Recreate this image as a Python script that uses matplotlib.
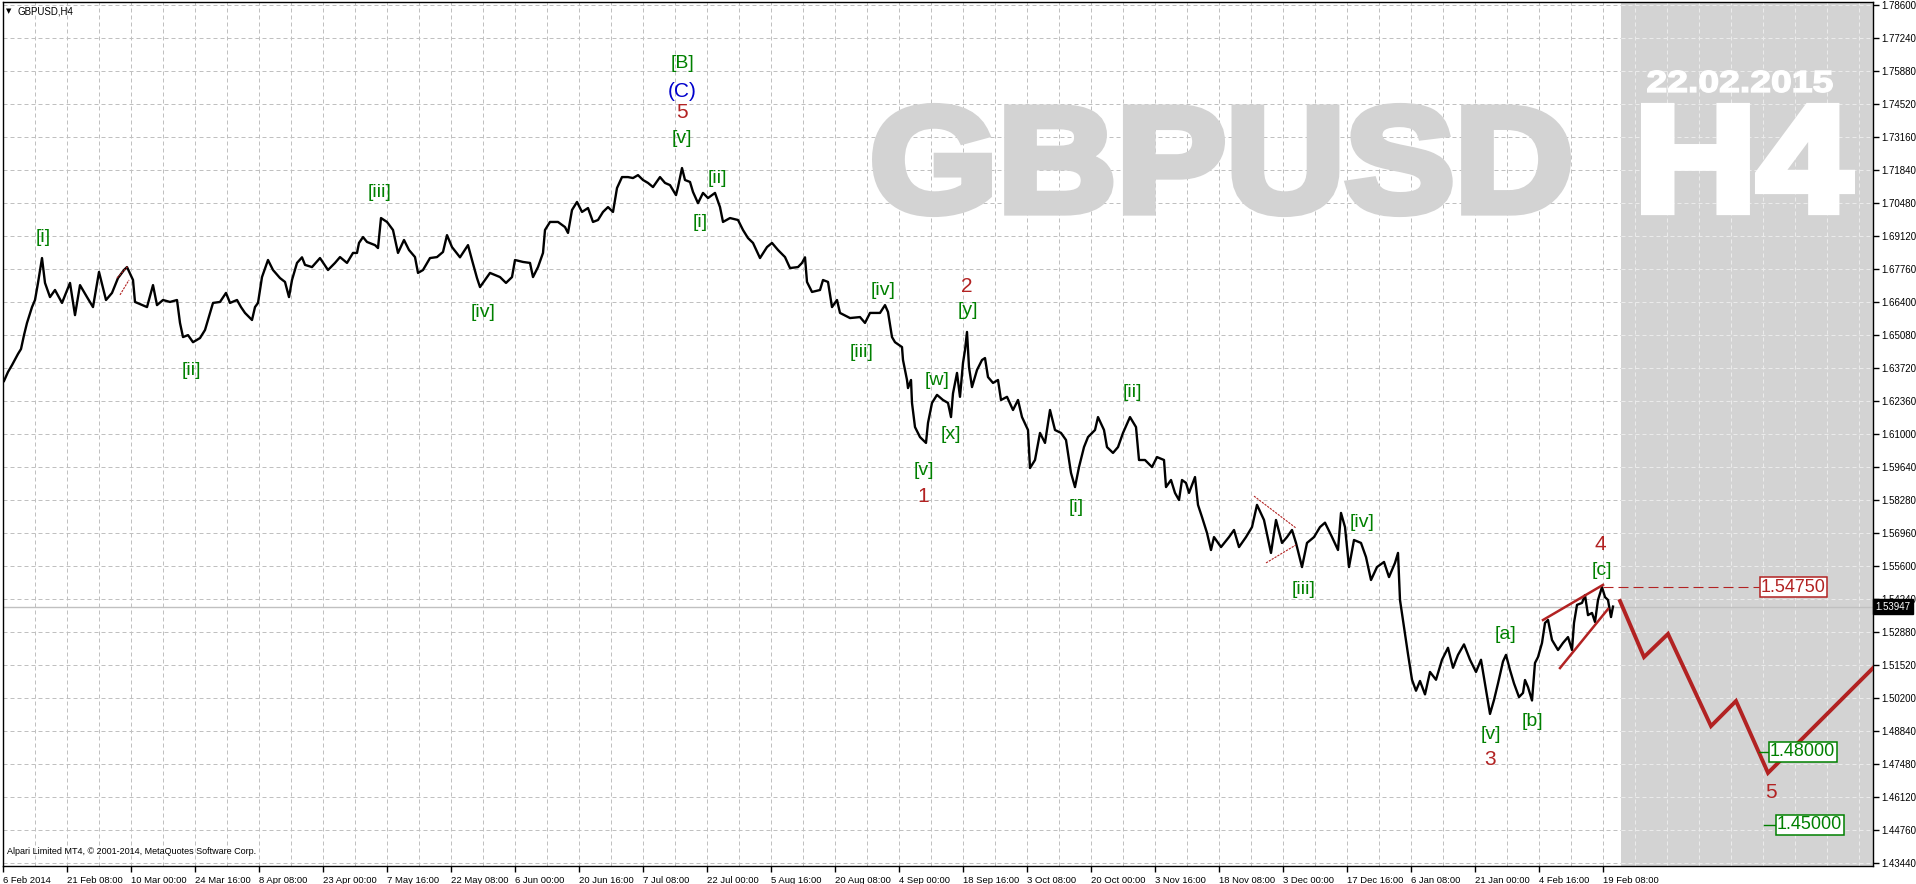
"""
GBPUSD H4 Elliott wave count, MT4 style
"""

import numpy as np
import matplotlib.pyplot as plt
import matplotlib.transforms as mtransforms
from matplotlib.textpath import TextPath
from matplotlib.patches import PathPatch
from matplotlib.font_manager import FontProperties

plt.rcParams['font.family'] = ['Liberation Sans', 'DejaVu Sans']

# price path: (H4 bar number counted from 6 Feb 2014, price)
leg_feb_jun = [(1, 1.6320), (5, 1.6357), (9, 1.6385), (15, 1.6431), (18, 1.6451), (21, 1.6508),
               (24, 1.6558), (29, 1.6623), (32, 1.6652), (35, 1.6722), (39, 1.6824), (42, 1.6722),
               (47, 1.6664), (52, 1.6693), (59, 1.6640), (67, 1.6722), (72, 1.6590), (77, 1.6713),
               (84, 1.6664), (90, 1.6623), (96, 1.6767), (103, 1.6652), (109, 1.6681), (115, 1.6742),
               (121, 1.6775), (124, 1.6787), (130, 1.6734), (132, 1.6644), (144, 1.6623), (150, 1.6713),
               (154, 1.6631), (160, 1.6652), (167, 1.6644), (174, 1.6652), (177, 1.6558), (180, 1.6500),
               (185, 1.6508), (190, 1.6479), (197, 1.6496), (202, 1.6529), (207, 1.6599), (210, 1.6640),
               (217, 1.6644), (223, 1.6681), (227, 1.6640), (234, 1.6652), (238, 1.6623), (242, 1.6599),
               (249, 1.6570), (252, 1.6623), (255, 1.6640), (259, 1.6746), (265, 1.6816), (270, 1.6775),
               (277, 1.6742), (282, 1.6726), (286, 1.6664), (289, 1.6734), (294, 1.6804), (299, 1.6827),
               (302, 1.6796), (309, 1.6787), (317, 1.6824), (325, 1.6775), (332, 1.6804), (337, 1.6828),
               (344, 1.6804), (350, 1.6845), (354, 1.6845), (356, 1.6886), (360, 1.6910), (364, 1.6890),
               (372, 1.6877), (375, 1.6865), (378, 1.6988), (384, 1.6972), (390, 1.6939), (395, 1.6845),
               (401, 1.6898), (406, 1.6857), (412, 1.6828), (415, 1.6763), (420, 1.6775), (427, 1.6824),
               (434, 1.6828), (440, 1.6849), (444, 1.6918), (449, 1.6869), (457, 1.6827), (465, 1.6877),
               (469, 1.6816), (474, 1.6742), (477, 1.6705), (484, 1.6746), (487, 1.6763), (497, 1.6746)]

leg_jun_sep = [(503, 1.6722), (509, 1.6746), (512, 1.6816), (520, 1.6808), (527, 1.6804), (530, 1.6746),
               (535, 1.6787), (540, 1.6845), (542, 1.6939), (547, 1.6972), (555, 1.6972), (562, 1.6951),
               (565, 1.6927), (569, 1.7021), (574, 1.7054), (579, 1.7013), (585, 1.7029), (590, 1.6972),
               (595, 1.6980), (600, 1.7013), (605, 1.7033), (610, 1.7013), (614, 1.7111), (619, 1.7156),
               (625, 1.7156), (630, 1.7152), (635, 1.7164), (640, 1.7144), (645, 1.7132), (650, 1.7115),
               (657, 1.7156), (662, 1.7132), (667, 1.7123), (673, 1.7082), (675, 1.7115), (679, 1.7193),
               (682, 1.7144), (687, 1.7136), (690, 1.7095), (695, 1.7049), (700, 1.7091), (705, 1.7070),
               (712, 1.7091), (717, 1.7033), (720, 1.6972), (727, 1.6988), (735, 1.6980), (740, 1.6939),
               (745, 1.6906), (750, 1.6886), (757, 1.6824), (764, 1.6869), (769, 1.6886), (775, 1.6857),
               (782, 1.6828), (787, 1.6783), (795, 1.6787), (799, 1.6804), (802, 1.6827), (804, 1.6726),
               (809, 1.6685), (817, 1.6693), (820, 1.6734), (825, 1.6726), (829, 1.6623), (834, 1.6652),
               (837, 1.6599), (847, 1.6578), (857, 1.6582), (862, 1.6558), (867, 1.6599), (877, 1.6599),
               (882, 1.6631), (885, 1.6603), (889, 1.6500), (892, 1.6479), (899, 1.6459), (900, 1.6406),
               (904, 1.6324), (905, 1.6291), (908, 1.6324), (909, 1.6230), (912, 1.6131), (917, 1.6090),
               (923, 1.6066)]

leg_sep_jan = [(925, 1.6148), (929, 1.6230), (934, 1.6263), (940, 1.6242), (945, 1.6230), (948, 1.6172),
               (950, 1.6269), (954, 1.6353), (957, 1.6255), (960, 1.6394), (962, 1.6447), (964, 1.6521),
               (966, 1.6377), (969, 1.6295), (974, 1.6365), (979, 1.6406), (982, 1.6414), (985, 1.6336),
               (990, 1.6312), (995, 1.6324), (998, 1.6242), (1004, 1.6255), (1010, 1.6201), (1015, 1.6242),
               (1019, 1.6172), (1025, 1.6119), (1027, 1.5963), (1032, 1.5996), (1037, 1.6107), (1042, 1.6066),
               (1047, 1.6201), (1052, 1.6119), (1058, 1.6107), (1063, 1.6078), (1068, 1.5943), (1072, 1.5885),
               (1076, 1.5967), (1081, 1.6049), (1085, 1.6090), (1092, 1.6119), (1095, 1.6172), (1101, 1.6119),
               (1104, 1.6049), (1110, 1.6025), (1115, 1.6049), (1120, 1.6107), (1127, 1.6172), (1133, 1.6131),
               (1136, 1.5996), (1142, 1.5996), (1149, 1.5967), (1154, 1.6008), (1161, 1.5996), (1163, 1.5885),
               (1168, 1.5914), (1172, 1.5861), (1176, 1.5832), (1179, 1.5914), (1183, 1.5902), (1186, 1.5861),
               (1192, 1.5926), (1195, 1.5812), (1199, 1.5762), (1204, 1.5697), (1208, 1.5627), (1211, 1.5680),
               (1218, 1.5639), (1226, 1.5680), (1231, 1.5709), (1236, 1.5639), (1243, 1.5680), (1249, 1.5721),
               (1254, 1.5812), (1261, 1.5750), (1268, 1.5615), (1273, 1.5750), (1279, 1.5656), (1284, 1.5680),
               (1289, 1.5709), (1293, 1.5656), (1299, 1.5557), (1304, 1.5656), (1311, 1.5680), (1317, 1.5721),
               (1322, 1.5739), (1329, 1.5680), (1335, 1.5627), (1338, 1.5779), (1342, 1.5721), (1346, 1.5557),
               (1351, 1.5668), (1358, 1.5656), (1363, 1.5598), (1368, 1.5504), (1374, 1.5557), (1381, 1.5578),
               (1386, 1.5516), (1392, 1.5574), (1395, 1.5615), (1397, 1.5422), (1401, 1.5311), (1405, 1.5200),
               (1409, 1.5095), (1413, 1.5050), (1417, 1.5090), (1422, 1.5035), (1427, 1.5127), (1433, 1.5095),
               (1439, 1.5177), (1445, 1.5226), (1450, 1.5144), (1455, 1.5197), (1461, 1.5240), (1467, 1.5177),
               (1473, 1.5127), (1478, 1.5177), (1483, 1.5053), (1487, 1.4955)]

leg_jan_feb = [(1491, 1.5012), (1495, 1.5080), (1500, 1.5170), (1503, 1.5197), (1507, 1.5135), (1511, 1.5080),
               (1516, 1.5024), (1520, 1.5041), (1522, 1.5094), (1525, 1.5065), (1529, 1.5010), (1532, 1.5164),
               (1535, 1.5188), (1539, 1.5246), (1542, 1.5328), (1545, 1.5340), (1549, 1.5258), (1555, 1.5217),
               (1560, 1.5246), (1565, 1.5270), (1569, 1.5217), (1571, 1.5328), (1574, 1.5402), (1579, 1.5410),
               (1582, 1.5442), (1585, 1.5360), (1589, 1.5369), (1592, 1.5332), (1595, 1.5422), (1599, 1.5475),
               (1602, 1.5434), (1605, 1.5422), (1608, 1.5352), (1610, 1.5395)]

last_price = 1.53947
target_level = 1.54750

# forecast path for wave 5
fc_bars = [1617, 1641, 1665, 1708, 1733, 1765, 1870]
fc_prices = [1.5418, 1.5188, 1.5283, 1.4905, 1.5008, 1.4713, 1.5143]

# channel / triangle lines: (bar0, bar1, price0, price1)
wedge_lines = [(1540, 1600, 1.5340, 1.5484), (1557, 1605, 1.5143, 1.5385)]
triangle_lines = [(1251, 1293, 1.5848, 1.5717), (1263, 1293, 1.5574, 1.5648),
                  (114, 125, 1.6742, 1.6791), (117, 126, 1.6673, 1.6734)]

# wave labels: text, bar, price, kind
wave_labels = [('[i]', 40, 1.6910, 'g'), ('[ii]', 188, 1.6361, 'g'), ('[iii]', 377, 1.7091, 'g'),
               ('[iv]', 480, 1.6599, 'g'), ('[v]', 679, 1.7316, 'g'), ('5', 679, 1.7419, 'r'),
               ('(C)', 679, 1.7505, 'b'), ('[B]', 679, 1.7620, 'g'), ('[i]', 697, 1.6968, 'g'),
               ('[ii]', 714, 1.7152, 'g'), ('[iii]', 859, 1.6435, 'g'), ('[iv]', 880, 1.6693, 'g'),
               ('[v]', 921, 1.5955, 'g'), ('1', 920, 1.5848, 'r'), ('[w]', 934, 1.6320, 'g'),
               ('[x]', 948, 1.6099, 'g'), ('[y]', 965, 1.6611, 'g'), ('2', 964, 1.6709, 'r'),
               ('[i]', 1073, 1.5803, 'g'), ('[ii]', 1129, 1.6271, 'g'), ('[iii]', 1301, 1.5467, 'g'),
               ('[iv]', 1359, 1.5738, 'g'), ('[v]', 1488, 1.4872, 'g'), ('3', 1487, 1.4770, 'r'),
               ('[a]', 1502, 1.5279, 'g'), ('[b]', 1529, 1.4922, 'g'), ('[c]', 1599, 1.5545, 'g'),
               ('4', 1597, 1.5648, 'r'), ('5', 1768, 1.4631, 'r')]

# target boxes: value, bar of box left edge, bar of small leader start
targets = [(1.48000, 1766, 1756), (1.45000, 1773, 1761)]

x_labels = ['6 Feb 2014', '21 Feb 08:00', '10 Mar 00:00', '24 Mar 16:00', '8 Apr 08:00', '23 Apr 00:00',
            '7 May 16:00', '22 May 08:00', '6 Jun 00:00', '20 Jun 16:00', '7 Jul 08:00', '22 Jul 00:00',
            '5 Aug 16:00', '20 Aug 08:00', '4 Sep 00:00', '18 Sep 16:00', '3 Oct 08:00', '20 Oct 00:00',
            '3 Nov 16:00', '18 Nov 08:00', '3 Dec 00:00', '17 Dec 16:00', '6 Jan 08:00', '21 Jan 00:00',
            '4 Feb 16:00', '19 Feb 08:00']
y_labels = ['1.78600', '1.77240', '1.75880', '1.74520', '1.73160', '1.71840', '1.70480', '1.69120',
            '1.67760', '1.66400', '1.65080', '1.63720', '1.62360', '1.61000', '1.59640', '1.58280',
            '1.56960', '1.55600', '1.54240', '1.52880', '1.51520', '1.50200', '1.48840', '1.47480',
            '1.46120', '1.44760', '1.43440']

GREEN = '#008000'
RED = '#B22222'
BLUE = '#0000CC'
GRID = '#C0C0C0'
SHADE = '#D3D3D3'
colors = {'g': GREEN, 'r': RED, 'b': BLUE}

W, H = 1916, 884
fig = plt.figure(figsize=(W / 100, H / 100), dpi=100)
ax = fig.add_axes([3 / W, 18 / H, 1870 / W, 864 / H])
ax.set_xlim(0, 1870)
ax.set_ylim(1.43314, 1.78738)
px_per_price = 864 / (1.78738 - 1.43314)

# ticks and grid
bar_step = 64
xt = np.arange(len(x_labels)) * bar_step
ax.set_xticks(xt)
ax.set_xticklabels(x_labels, fontsize=6.8, ha='left')
ax.set_xticks(np.arange(32, 1870, 32), minor=True)
yt = np.linspace(1.78600, 1.43440, len(y_labels))
ax.set_yticks(yt)
ax.set_yticklabels(y_labels, fontsize=7)
ax.yaxis.tick_right()
ax.tick_params(axis='both', which='major', length=4, width=1, direction='out', pad=2)
ax.tick_params(axis='both', which='minor', length=0)
ax.tick_params(axis='x', pad=3)
ax.set_axisbelow(True)
ax.grid(True, which='both', color=GRID, linestyle=(0, (4, 3)), linewidth=0.72)
for sp in ax.spines.values():
    sp.set_linewidth(1)
    sp.set_color('black')

# future (shift) area
shade_start = 1618
ax.axvspan(shade_start, 1870, color=SHADE, zorder=0.6, lw=0)
gx = np.arange(32, 1870, 32)
gx = gx[gx > shade_start]
ax.vlines(gx, 1.43314, 1.78738, colors='#EBEBEB', linestyles=(0, (4, 3)), linewidth=0.72, zorder=0.7)
ax.hlines(yt, shade_start, 1870, colors='#EBEBEB', linestyles=(0, (4, 3)), linewidth=0.72, zorder=0.7)


def stamp(s, x0, x1, p_bot, p_top, color, stroke_px):
    # fit bold text outline into a box, then fatten it with an outline stroke
    tp = TextPath((0, 0), s, size=100, prop=FontProperties(family='Liberation Sans', weight='bold'))
    bb = tp.get_extents()
    half = stroke_px / 2.0
    dp = half / px_per_price
    x0, x1, p_bot, p_top = x0 + half, x1 - half, p_bot + dp, p_top - dp
    tr = (mtransforms.Affine2D().translate(-bb.x0, -bb.y0)
          .scale((x1 - x0) / bb.width, (p_top - p_bot) / bb.height)
          .translate(x0, p_bot))
    ax.add_patch(PathPatch(tr.transform_path(tp), facecolor=color, edgecolor=color,
                           lw=stroke_px * 0.72, joinstyle='miter', zorder=0.9))


stamp('GBPUSD', 869, 1568, 1.6992, 1.7460, SHADE, 9)
stamp('H4', 1638, 1852, 1.7000, 1.7460, 'white', 9)
stamp('22.02.2015', 1644, 1830, 1.7501, 1.7595, 'white', 1.5)

# bid line
ax.axhline(last_price, color='#C0C0C0', lw=1, zorder=1)

# price
path = leg_feb_jun + leg_jun_sep + leg_sep_jan + leg_jan_feb
bx = [b for b, p in path]
by = [p for b, p in path]
ax.plot(bx, by, color='black', lw=1.7, zorder=3)

for b0, b1, p0, p1 in wedge_lines:
    ax.plot([b0, b1], [p0, p1], color=RED, lw=1.8, zorder=4)
for b0, b1, p0, p1 in triangle_lines:
    ax.plot([b0, b1], [p0, p1], color=RED, lw=0.8, linestyle=(0, (2, 1)), zorder=4)

ax.plot(fc_bars, fc_prices, color=RED, lw=2.8, zorder=4, solid_joinstyle='miter')

# 1.54750 level
ax.plot([1600, 1756], [target_level, target_level], color=RED, lw=0.8, dashes=(9, 4.5), zorder=4)
ax.text(1758, target_level, '%.5f' % target_level, color=RED, fontsize=13, ha='left', va='center',
        zorder=5, bbox=dict(boxstyle='square,pad=0.08', fc='white', ec=RED, lw=1.1))

for val, b_box, b_lead in targets:
    ax.plot([b_lead, b_box], [val, val], color=GREEN, lw=1.0, zorder=4)
    ax.text(b_box + 1, val, '%.5f' % val, color=GREEN, fontsize=13, ha='left', va='center',
            zorder=5, bbox=dict(boxstyle='square,pad=0.08', fc='white', ec=GREEN, lw=1.1))

for txt, b, p, k in wave_labels:
    fs = 14 if k == 'g' else 15
    ax.text(b, p, txt, color=colors[k], fontsize=fs, ha='center', va='center', zorder=5)

# current price marker on the scale
ax.text(1.0015, last_price, '%.5f' % last_price,
        transform=mtransforms.blended_transform_factory(ax.transAxes, ax.transData),
        color='white', fontsize=7, ha='left', va='center', zorder=6,
        bbox=dict(boxstyle='square,pad=0.25', fc='black', ec='black'))

# header and footer texts
fig.text(6 / W, 1 - 11 / H, '\u25bc', fontsize=5, va='center', ha='left', family='DejaVu Sans')
fig.text(18 / W, 1 - 11 / H, 'GBPUSD,H4', fontsize=7, va='center', ha='left')
fig.text(7 / W, 1 - 852 / H, 'Alpari Limited MT4, \u00a9 2001-2014, MetaQuotes Software Corp.',
         fontsize=6.5, va='center', ha='left')

fig.savefig('out.png', dpi=100)
